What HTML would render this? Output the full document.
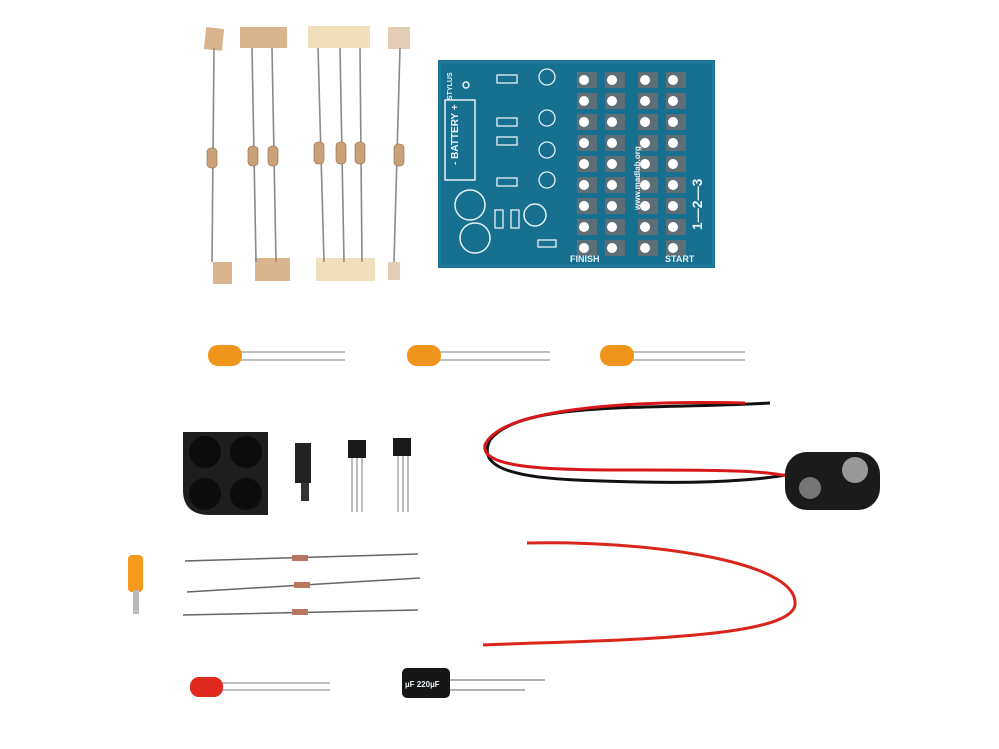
<!DOCTYPE html>
<html><head><style>
html,body{margin:0;padding:0;background:#fff;width:999px;height:749px;overflow:hidden}
svg{display:block}
text{font-family:"Liberation Sans",sans-serif;font-weight:bold;fill:#e8f2f6}
</style></head><body>
<svg width="999" height="749" viewBox="0 0 999 749" xmlns="http://www.w3.org/2000/svg">
<defs>
<g id="pad"><rect x="-9" y="-8" width="20" height="16" fill="#5e6e76"/><circle cx="-2" cy="0" r="5" fill="#fff"/></g>
<g id="col">
<use href="#pad" y="80"/><use href="#pad" y="101"/><use href="#pad" y="122"/><use href="#pad" y="143"/><use href="#pad" y="164"/><use href="#pad" y="185"/><use href="#pad" y="206"/><use href="#pad" y="227"/><use href="#pad" y="248"/>
</g>
</defs>
<g fill="#d9b48c">
<rect x="205" y="28" width="18" height="22" transform="rotate(6 214 39)"/>
<rect x="240" y="27" width="47" height="21"/>
<rect x="388" y="27" width="22" height="22" fill="#e2cdb6"/>
<rect x="213" y="262" width="19" height="22"/>
<rect x="255" y="258" width="35" height="23"/>
<rect x="388" y="262" width="12" height="18" fill="#e2cdb6"/>
</g>
<rect x="308" y="26" width="62" height="22" fill="#efe0bb"/>
<rect x="316" y="258" width="59" height="23" fill="#efe0bb"/>
<g stroke="#8a8a8a" stroke-width="1.6" fill="none">
<path d="M214 48 L212 262"/><path d="M252 48 L256 262"/><path d="M272 48 L276 262"/>
<path d="M318 48 L324 262"/><path d="M340 48 L344 262"/><path d="M360 48 L362 262"/><path d="M400 48 L394 262"/>
</g>
<g fill="#caa078" stroke="#8b6a44" stroke-width="0.6">
<rect x="207" y="148" width="10" height="20" rx="4"/>
<rect x="248" y="146" width="10" height="20" rx="4"/>
<rect x="268" y="146" width="10" height="20" rx="4"/>
<rect x="314" y="142" width="10" height="22" rx="4"/>
<rect x="336" y="142" width="10" height="22" rx="4"/>
<rect x="355" y="142" width="10" height="22" rx="4"/>
<rect x="394" y="144" width="10" height="22" rx="4"/>
</g>
<!-- PCB -->
<rect x="438" y="60" width="277" height="208" fill="#17708f"/>
<rect x="440" y="62" width="273" height="204" fill="none" stroke="#2a84a3" stroke-width="1"/>
<rect x="445" y="100" width="30" height="80" fill="none" stroke="#e8f2f6" stroke-width="1.5"/>
<text x="458" y="165" font-size="10" transform="rotate(-90 458 165)">- BATTERY +</text>
<text x="452" y="100" font-size="7" transform="rotate(-90 452 100)">STYLUS</text>
<circle cx="466" cy="85" r="3" fill="none" stroke="#e8f2f6" stroke-width="1.5"/>
<circle cx="470" cy="205" r="15" fill="none" stroke="#e8f2f6" stroke-width="1.5"/>
<circle cx="475" cy="238" r="15" fill="none" stroke="#e8f2f6" stroke-width="1.5"/>
<circle cx="535" cy="215" r="11" fill="none" stroke="#e8f2f6" stroke-width="1.5"/>
<g fill="none" stroke="#e8f2f6" stroke-width="1.3">
<rect x="497" y="75" width="20" height="8"/><rect x="497" y="118" width="20" height="8"/><rect x="497" y="137" width="20" height="8"/>
<rect x="497" y="178" width="20" height="8"/><rect x="495" y="210" width="8" height="18"/><rect x="511" y="210" width="8" height="18"/>
<rect x="538" y="240" width="18" height="7"/>
<circle cx="547" cy="77" r="8"/><circle cx="547" cy="118" r="8"/><circle cx="547" cy="150" r="8"/><circle cx="547" cy="180" r="8"/>
</g>
<use href="#col" x="586"/><use href="#col" x="614"/><use href="#col" x="647"/><use href="#col" x="675"/>
<text x="570" y="262" font-size="9">FINISH</text>
<text x="665" y="262" font-size="9">START</text>
<text x="640" y="210" font-size="8" transform="rotate(-90 640 210)">www.madlab.org</text>
<text x="702" y="230" font-size="14" transform="rotate(-90 702 230)">1—2—3</text>
<!-- LEDs -->
<g stroke="#aaa" stroke-width="1.5"><path d="M240 352 H345 M240 360 H345 M438 352 H550 M438 360 H550 M631 352 H745 M631 360 H745 M220 683 H330 M220 690 H330"/></g>
<g fill="#f0951c"><rect x="208" y="345" width="34" height="21" rx="10"/><rect x="407" y="345" width="34" height="21" rx="10"/><rect x="600" y="345" width="34" height="21" rx="10"/></g>
<rect x="190" y="677" width="33" height="20" rx="9" fill="#e02a1f"/>
<!-- battery clip wires -->
<path d="M770 403 C650 410 520 400 490 440 C470 480 560 480 640 482 C720 484 790 478 800 470" stroke="#111" stroke-width="3" fill="none"/>
<path d="M745 403 C620 400 500 410 485 445 C480 470 560 470 640 470 C720 470 780 470 800 480" stroke="#d8171c" stroke-width="3" fill="none"/>
<rect x="785" y="452" width="95" height="58" rx="22" fill="#1b1b1b"/>
<circle cx="810" cy="488" r="11" fill="#777"/><circle cx="855" cy="470" r="13" fill="#999"/>
<!-- black pad -->
<path d="M183 432 H268 V515 H210 Q183 515 183 490 Z" fill="#1e1e1e"/>
<g fill="#0c0c0c"><circle cx="205" cy="452" r="16"/><circle cx="246" cy="452" r="16"/><circle cx="205" cy="494" r="16"/><circle cx="246" cy="494" r="16"/></g>
<rect x="295" y="443" width="16" height="40" fill="#222"/><rect x="301" y="483" width="8" height="18" fill="#333"/>
<g stroke="#999" stroke-width="1.3"><path d="M352 455 V512 M357 455 V512 M362 455 V512 M398 455 V512 M403 455 V512 M408 455 V512"/></g>
<rect x="348" y="440" width="18" height="18" fill="#1a1a1a"/><rect x="393" y="438" width="18" height="18" fill="#1a1a1a"/>
<!-- ferrule -->
<rect x="128" y="555" width="15" height="37" rx="4" fill="#f39a1f"/><rect x="133" y="590" width="6" height="24" fill="#bbb"/>
<!-- diodes -->
<g stroke="#666" stroke-width="1.5"><path d="M185 561 L418 554 M187 592 L420 578 M183 615 L418 610"/></g>
<g fill="#b87860"><rect x="292" y="555" width="16" height="6"/><rect x="294" y="582" width="16" height="6"/><rect x="292" y="609" width="16" height="6"/></g>
<!-- red wire -->
<path d="M527 543 C640 540 800 560 795 605 C790 640 600 640 483 645" stroke="#d9261c" stroke-width="3" fill="none"/>
<!-- capacitor -->
<g stroke="#999" stroke-width="1.5"><path d="M448 680 H545 M448 690 H525"/></g>
<rect x="402" y="668" width="48" height="30" rx="5" fill="#161616"/>
<text x="405" y="687" font-size="8" font-weight="normal">µF 220µF</text>
</svg>
</body></html>
